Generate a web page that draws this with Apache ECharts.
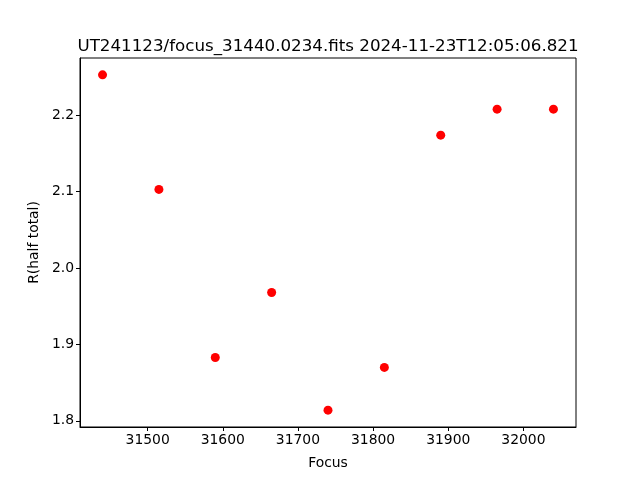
<!DOCTYPE html>
<html><head><meta charset="utf-8">
<script src="https://cdn.jsdelivr.net/npm/echarts@6/dist/echarts.min.js"></script>
<style>html,body{margin:0;padding:0;background:#fff}#c{width:640px;height:480px}</style>
</head><body><div id="c"></div>
<script>
const focusValues = [31440, 31515, 31590, 31665, 31740, 31815, 31890, 31965, 32040];
const radiusValues = [2.253, 2.103, 1.883, 1.968, 1.814, 1.870, 2.174, 2.208, 2.208];
const xTicks = [31500, 31600, 31700, 31800, 31900, 32000];
const yTicks = [1.8, 1.9, 2.0, 2.1, 2.2];
const titleText = 'UT241123/focus_31440.0234.fits 2024-11-23T12:05:06.821';
const xName = 'Focus';
const yName = 'R(half total)';

const font = 'DejaVu Sans';
const chart = echarts.init(document.getElementById('c'), null, {renderer: 'canvas'});
const axisCommon = {
  axisLine: {show: true, onZero: false, lineStyle: {color: '#000', width: 1}},
  axisTick: {show: true, inside: false, length: 4, lineStyle: {color: '#000', width: 1}},
  splitLine: {show: false},
  axisLabel: {color: '#000', fontFamily: font, fontSize: 13.9, margin: 6},
  nameTextStyle: {color: '#000', fontFamily: font, fontSize: 13.9},
  nameLocation: 'middle'
};
chart.setOption({
  animation: false,
  backgroundColor: '#fff',
  title: {
    text: titleText, left: 323, top: 33, textAlign: 'center',
    textStyle: {fontFamily: font, fontSize: 16.7, fontWeight: 'normal', color: '#000'}
  },
  grid: {left: 80, right: 64, top: 58, bottom: 53, show: true, borderColor: '#000', borderWidth: 1, containLabel: false},
  xAxis: Object.assign({}, axisCommon, {
    type: 'value', min: 31410, max: 32070, name: xName, nameGap: 29,
    axisTick: Object.assign({}, axisCommon.axisTick, {customValues: xTicks}),
    axisLabel: Object.assign({}, axisCommon.axisLabel, {customValues: xTicks, formatter: v => String(v)})
  }),
  yAxis: Object.assign({}, axisCommon, {
    type: 'value', min: 1.792, max: 2.275, name: yName, nameGap: 38,
    axisTick: Object.assign({}, axisCommon.axisTick, {customValues: yTicks}),
    axisLabel: Object.assign({}, axisCommon.axisLabel, {customValues: yTicks, formatter: v => v.toFixed(1)})
  }),
  series: [{
    type: 'scatter',
    data: focusValues.map((x, i) => [x, radiusValues[i]]),
    symbol: 'circle', symbolSize: 9,
    itemStyle: {color: '#ff0000', opacity: 1}
  }]
});
</script></body></html>
